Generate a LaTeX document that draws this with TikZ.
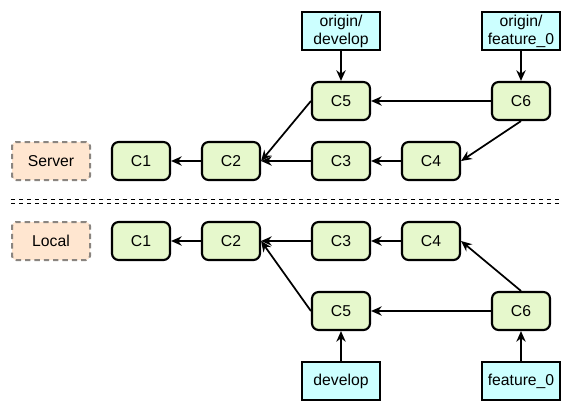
\documentclass[tikz,border=0pt]{standalone}
\usepackage{fontspec}
\setmainfont{Liberation Sans}
\usepackage{xcolor}
\usetikzlibrary{arrows.meta}

\definecolor{commitfill}{HTML}{E6F8CC}
\definecolor{branchfill}{HTML}{CCFFFF}
\definecolor{sidefill}{HTML}{FFE6D0}
\definecolor{sideline}{HTML}{8A8580}

\begin{document}
\begin{tikzpicture}[x=0.75pt,y=-0.75pt,
  every node/.style={font=\fontsize{11.8}{13.5}\selectfont,inner sep=0pt},
  commit/.style={draw,line width=1.6pt,rounded corners=5pt,fill=commitfill,
    minimum width=43.5pt,minimum height=28.5pt},
  branch/.style={draw,line width=1.3pt,fill=branchfill,align=center,
    minimum width=58.5pt,minimum height=28.5pt},
  side/.style={draw=sideline,dashed,dash pattern=on 4pt off 3pt,line width=1.5pt,
    rounded corners=3pt,fill=sidefill,minimum width=58.5pt,minimum height=28.5pt},
  arr/.style={-{Stealth[length=8pt,width=7pt]},line width=1.3pt}]

\useasboundingbox (0,0) rectangle (572,412);

% row heights
\def\ybr{31}
\def\ysa{101}
\def\ysb{161}
\def\yla{241}
\def\ylb{311}
\def\ylr{381}

% Server side
\node[side] (server) at (51,\ysb) {Server};
\node[commit] (sC1) at (141,\ysb) {C1};
\node[commit] (sC2) at (231,\ysb) {C2};
\node[commit] (sC3) at (341,\ysb) {C3};
\node[commit] (sC4) at (431,\ysb) {C4};
\node[commit] (sC5) at (341,\ysa) {C5};
\node[commit] (sC6) at (521,\ysa) {C6};
\node[branch] (odev) at (341,\ybr) {origin/\\develop};
\node[branch] (ofeat) at (521,\ybr) {origin/\\feature\_0};

\draw[arr] (sC2) -- (sC1);
\draw[arr] (sC3) -- (sC2);
\draw[arr] (sC5.west) -- (sC2.east);
\draw[arr] (sC4) -- (sC3);
\draw[arr] (sC6) -- (sC5);
\draw[arr] (sC6.south) -- (sC4.east);
\draw[arr] (odev) -- (sC5);
\draw[arr] (ofeat) -- (sC6);

% Separator
\draw[dashed,line width=0.6pt] (11,199) -- (561,199);
\draw[dashed,line width=0.6pt] (11,203) -- (561,203);

% Local side
\node[side] (local) at (51,\yla) {Local};
\node[commit] (lC1) at (141,\yla) {C1};
\node[commit] (lC2) at (231,\yla) {C2};
\node[commit] (lC3) at (341,\yla) {C3};
\node[commit] (lC4) at (431,\yla) {C4};
\node[commit] (lC5) at (341,\ylb) {C5};
\node[commit] (lC6) at (521,\ylb) {C6};
\node[branch] (dev) at (341,\ylr) {develop};
\node[branch] (feat) at (521,\ylr) {feature\_0};

\draw[arr] (lC2) -- (lC1);
\draw[arr] (lC3) -- (lC2);
\draw[arr] (lC5.west) -- (lC2.east);
\draw[arr] (lC4) -- (lC3);
\draw[arr] (lC6) -- (lC5);
\draw[arr] (lC6.north) -- (lC4.east);
\draw[arr] (dev) -- (lC5);
\draw[arr] (feat) -- (lC6);

\end{tikzpicture}
\end{document}
